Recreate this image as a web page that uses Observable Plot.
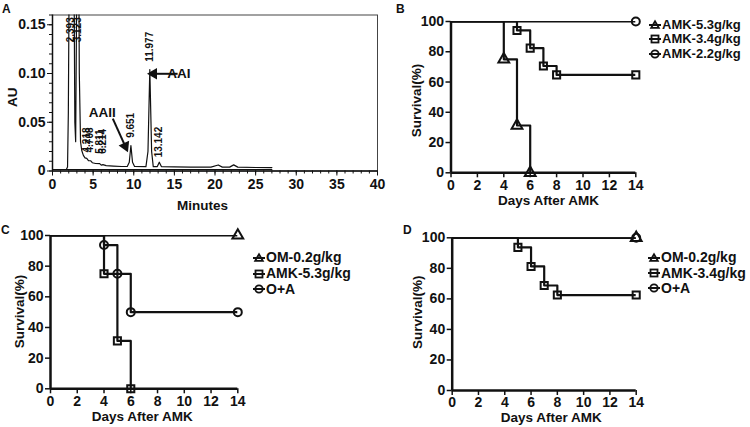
<!DOCTYPE html>
<html><head><meta charset="utf-8">
<script src="https://cdn.jsdelivr.net/npm/d3@7"></script>
<script src="https://cdn.jsdelivr.net/npm/@observablehq/plot@0.6"></script>
<style>
body{margin:0;background:#fff;}
#root{position:relative;width:750px;height:427px;overflow:hidden;font-family:"Liberation Sans",Arial,sans-serif;font-weight:bold;color:#111;}
.panel{position:absolute;}
.letter{position:absolute;font-size:12px;font-weight:bold;line-height:12px;}
.legend{position:absolute;font-weight:bold;}
.legend .row{display:flex;align-items:center;white-space:nowrap;overflow:visible;}
.legend .row span{display:inline-block;overflow:visible;}
.legend svg{margin-right:1px;flex:none;}
</style></head><body><div id="root"></div>
<script>
// ---------- Panel A: HPLC chromatogram ----------
const chromTime = [1.7, 1.85, 1.95, 2.05, 2.393, 2.65, 2.75, 2.85, 2.95, 3.123, 3.3, 3.45, 3.6, 3.8, 4.0, 4.218, 4.45, 4.708, 4.9, 5.3, 5.811, 6.0, 6.214, 6.6, 7.5, 8.5, 9.2, 9.45, 9.651, 9.85, 10.1, 11.5, 11.75, 11.977, 12.2, 12.4, 12.9, 13.142, 13.4, 15, 17, 19.5, 20.4, 20.9, 21.8, 22.3, 22.8, 25, 27];
const chromAU   = [0.0015, 0.004, 0.06, 0.2, 0.35, 0.2, 0.05, 0.03, 0.15, 0.4, 0.1, 0.03, 0.021, 0.016, 0.0135, 0.013, 0.0105, 0.0105, 0.0085, 0.0077, 0.0075, 0.006, 0.0065, 0.0055, 0.005, 0.0046, 0.0046, 0.009, 0.026, 0.009, 0.0046, 0.0045, 0.02, 0.104, 0.02, 0.0045, 0.0045, 0.009, 0.0045, 0.0042, 0.004, 0.004, 0.0062, 0.004, 0.004, 0.0063, 0.004, 0.0036, 0.0035];
const blankTime = [0, 27];
const blankAU = [0.0015, 0.0015];
const peakLabels = ["2.393", "3.123", "4.218", "4.708", "5.811", "6.214", "9.651", "11.977", "13.142"];
const peakLabelTime = [2.3, 3.08, 4.2, 4.6, 5.8, 6.2, 9.65, 11.98, 13.1];
const peakLabelAU = [0.132, 0.132, 0.019, 0.019, 0.0176, 0.0176, 0.034, 0.112, 0.014];
const annText = ["AAI", "AAII"];
const annTime = [15.55, 6.13];
const annAU = [0.0997, 0.060];
const arrowFromT = [15.4, 7.42], arrowFromAU = [0.0997, 0.0538];
const arrowToT = [12.45, 8.95], arrowToAU = [0.0997, 0.0255];
const arrowHeadAngle = [-90, 156];
const aMajorX = [0, 5, 10, 15, 20, 25, 30, 35, 40];
const aMajorY = [0, 0.05, 0.10, 0.15];

// ---------- Panel B ----------
const bNames = ["AMK-5.3g/kg", "AMK-3.4g/kg", "AMK-2.2g/kg"];
const bDays53 = [0, 4, 5, 6], bSurv53 = [100, 75, 31.25, 0];
const bDays34 = [0, 5, 6, 7, 8, 14], bSurv34 = [100, 94.1, 82.4, 70.6, 64.7, 64.7];
const bDays22 = [0, 14], bSurv22 = [100, 100];

// ---------- Panel C ----------
const cNames = ["OM-0.2g/kg", "AMK-5.3g/kg", "O+A"];
const cDaysOM = [0, 14], cSurvOM = [100, 100];
const cDaysAMK = [0, 4, 5, 6], cSurvAMK = [100, 75, 31.25, 0];
const cDaysOA = [0, 4, 5, 6, 14], cSurvOA = [100, 93.75, 75, 50, 50];

// ---------- Panel D ----------
const dNames = ["OM-0.2g/kg", "AMK-3.4g/kg", "O+A"];
const dDaysOM = [0, 14], dSurvOM = [100, 100];
const dDaysAMK = [0, 5, 6, 7, 8, 14], dSurvAMK = [100, 93.75, 81.25, 68.75, 62.5, 62.5];
const dDaysOA = [0, 14], dSurvOA = [100, 100];

const survTicksX = [0, 2, 4, 6, 8, 10, 12, 14];
const survTicksY = [0, 20, 40, 60, 80, 100];
const symbols = ["triangle", "square", "circle"];

const root = document.getElementById("root");
const FONT = '"Liberation Sans", Arial, sans-serif';

function place(el, left, top) {
  const d = document.createElement("div");
  d.className = "panel";
  d.style.left = left + "px";
  d.style.top = top + "px";
  d.appendChild(el);
  root.appendChild(d);
}
function letter(t, left, top) {
  const d = document.createElement("div");
  d.className = "letter";
  d.textContent = t;
  d.style.left = left + "px";
  d.style.top = top + "px";
  root.appendChild(d);
}
function symbolSvg(sym) {
  let shape = "";
  if (sym === "triangle") shape = '<path d="M6,2.2 L9.8,8.8 L2.2,8.8 Z" fill="none" stroke="#111" stroke-width="1.8"/>';
  if (sym === "square") shape = '<rect x="2.5" y="2.5" width="7" height="7" fill="none" stroke="#111" stroke-width="1.8"/>';
  if (sym === "circle") shape = '<circle cx="6" cy="6" r="3.7" fill="none" stroke="#111" stroke-width="1.8"/>';
  return '<svg width="12" height="12" viewBox="0 0 12 12"><line x1="0" x2="12" y1="6" y2="6" stroke="#111" stroke-width="2"/>' + shape + '</svg>';
}
function legend(names, left, top, rowH, fontSize) {
  const d = document.createElement("div");
  d.className = "legend";
  d.style.left = left + "px";
  d.style.top = top + "px";
  d.style.fontSize = fontSize + "px";
  names.forEach((n, i) => {
    const r = document.createElement("div");
    r.className = "row";
    r.style.height = rowH + "px";
    r.innerHTML = symbolSvg(symbols[i]) + '<span style="height:' + (rowH - 0.5) + 'px;line-height:' + (rowH - 0.5) + 'px">' + n + "</span>";
    d.appendChild(r);
  });
  root.appendChild(d);
}

// ---- Panel A plot ----
const chrom = chromTime.map((t, i) => ({t, au: chromAU[i]}));
const blank = blankTime.map((t, i) => ({t, au: blankAU[i]}));
const plotA = Plot.plot({
  width: 390, height: 215,
  marginLeft: 52, marginRight: 13, marginTop: 14.5, marginBottom: 44.5,
  x: {domain: [0, 40], label: null},
  y: {domain: [0, 0.16], label: null},
  style: {fontFamily: FONT, fontWeight: "bold", fontSize: "14px", color: "#111", background: "white"},
  marks: [
    Plot.frame({stroke: "#444", strokeWidth: 1}),
    Plot.line(blank, {x: "t", y: "au", stroke: "#111", strokeWidth: 1.1, clip: true}),
    Plot.line(chrom, {x: "t", y: "au", stroke: "#111", strokeWidth: 1.2, clip: true}),
    Plot.text(peakLabels, {x: peakLabelTime, y: peakLabelAU, text: peakLabels, rotate: -90, textAnchor: "start", lineAnchor: "middle", fontSize: 10, fontWeight: "bold"}),
    Plot.text(annText, {x: annTime, y: annAU, text: annText, textAnchor: (d) => d === "AAI" ? "start" : "middle", lineAnchor: "middle", fontSize: 13.5, fontWeight: "bold"}),
    Plot.link(annText, {x1: arrowFromT, y1: arrowFromAU, x2: arrowToT, y2: arrowToAU, stroke: "#111", strokeWidth: 2}),
    Plot.dot(annText, {x: arrowToT, y: arrowToAU, symbol: "triangle2", r: 5.5, fill: "#111", stroke: "none", rotate: arrowHeadAngle}),
    Plot.axisX(d3.range(0, 41, 1), {tickSize: 3, tickFormat: () => "", label: null}),
    Plot.axisX(aMajorX, {tickSize: 5, tickPadding: 3, fontSize: 14, fontWeight: "bold", label: null}),
    Plot.axisY(d3.range(0, 0.1601, 0.01), {tickSize: 3, tickFormat: () => "", label: null}),
    Plot.axisY(aMajorY, {tickSize: 5, tickPadding: 2, fontSize: 14, fontWeight: "bold", label: null, tickFormat: (d) => d === 0 ? "0" : d.toFixed(2)}),
    Plot.ruleX([0], {stroke: "#111", strokeWidth: 1.5}),
    Plot.ruleY([0], {stroke: "#111", strokeWidth: 1.5}),
    Plot.text(["Minutes"], {frameAnchor: "bottom", lineAnchor: "middle", textAnchor: "middle", dx: -12.6, dy: 34.5, fontSize: 13.5, fontWeight: "bold"}),
    Plot.text(["AU"], {frameAnchor: "left", rotate: -90, textAnchor: "middle", lineAnchor: "middle", dx: -40.3, dy: 4.2, fontSize: 13.5, fontWeight: "bold"})
  ]
});
place(plotA, 0, 0);

// ---- Survival panels ----
function survival(groups, opts) {
  const marks = [];
  groups.forEach((g, k) => {
    const pts = g.days.map((d, i) => ({day: d, surv: g.surv[i]}));
    marks.push(Plot.line(pts, {x: "day", y: "surv", curve: "step-after", stroke: "#111", strokeWidth: 2.2, clip: true}));
    marks.push(Plot.dot(pts.slice(1), {x: "day", y: "surv", symbol: symbols[k], r: 4, stroke: "#111", strokeWidth: 2, fill: "none"}));
  });
  return Plot.plot({
    width: opts.width, height: opts.height,
    marginLeft: opts.ml, marginRight: opts.mr, marginTop: opts.mt, marginBottom: opts.mb,
    x: {domain: [0, 14], label: null},
    y: {domain: [0, 100], label: null},
    style: {fontFamily: FONT, fontWeight: "bold", fontSize: "14px", color: "#111", background: "transparent", overflow: "visible"},
    marks: [
      ...marks,
      Plot.axisX(survTicksX, {tickSize: 5, tickPadding: 2, fontSize: 14, fontWeight: "bold", label: null, strokeWidth: 1.5}),
      Plot.axisY(survTicksY, {tickSize: 5, tickPadding: 2, fontSize: 14, fontWeight: "bold", label: null, strokeWidth: 1.5}),
      Plot.ruleX([0], {stroke: "#111", strokeWidth: 2.5}),
      Plot.ruleY([0], {stroke: "#111", strokeWidth: 2.5}),
      Plot.text(["Days After AMK"], {frameAnchor: "bottom", lineAnchor: "middle", textAnchor: "middle", dx: opts.xdx, dy: opts.xdy, fontSize: 13.5, fontWeight: "bold"}),
      Plot.text(["Survival(%)"], {frameAnchor: "left", rotate: -90, textAnchor: "middle", lineAnchor: "middle", dx: opts.ydx, dy: opts.ydy, fontSize: 13.5, fontWeight: "bold"})
    ]
  });
}

const plotB = survival([
  {days: bDays53, surv: bSurv53},
  {days: bDays34, surv: bSurv34},
  {days: bDays22, surv: bSurv22}
], {width: 250, height: 215, ml: 55.5, mr: 9.7, mt: 21, mb: 42.7, xdx: 5, xdy: 28.2, ydx: -34.8, ydy: 3.3});
place(plotB, 395, 0);

const plotC = survival([
  {days: cDaysOM, surv: cSurvOM},
  {days: cDaysAMK, surv: cSurvAMK},
  {days: cDaysOA, surv: cSurvOA}
], {width: 250, height: 212, ml: 50, mr: 12.7, mt: 20, mb: 38.7, xdx: -2, xdy: 27.5, ydx: -31, ydy: -0.7});
place(plotC, 0, 215);

const plotD = survival([
  {days: dDaysOM, surv: dSurvOM},
  {days: dDaysAMK, surv: dSurvAMK},
  {days: dDaysOA, surv: dSurvOA}
], {width: 250, height: 212, ml: 56.7, mr: 9.3, mt: 22.3, mb: 37, xdx: 7, xdy: 27.2, ydx: -35, ydy: -2});
place(plotD, 395, 215);

legend(bNames, 649, 17.5, 14.5, 13);
legend(cNames, 253, 250, 15.8, 14);
legend(dNames, 648, 250, 15.3, 14);

letter("A", 2, 3);
letter("B", 396, 3);
letter("C", 1, 224);
letter("D", 403, 224);
</script></body></html>
